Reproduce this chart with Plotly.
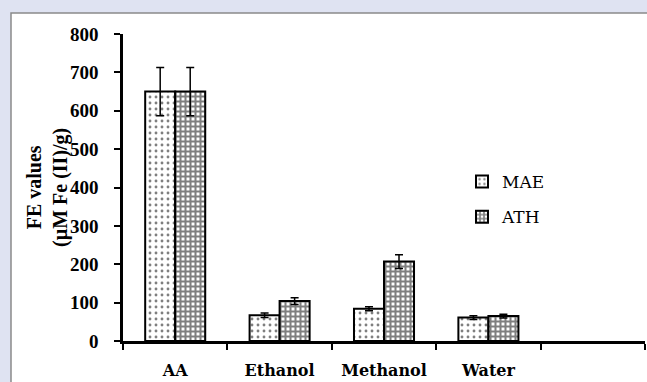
import plotly.graph_objects as go

# Ferric-reducing (FE) values by extraction solvent
categories = ["AA", "Ethanol", "Methanol", "Water", " "]
solvents = ["AA", "Ethanol", "Methanol", "Water"]
mae_values = [650, 67, 84, 61]
mae_err = [63, 6, 5, 5]
ath_values = [650, 104, 207, 65]
ath_err = [63, 9, 18, 5]
y_ticks = [0, 100, 200, 300, 400, 500, 600, 700, 800]

W, H = 647, 382
ML, MR, MT, MB = 123, 2, 34, 41
PW, PH = W - ML - MR, H - MT - MB

serif = "Liberation Serif"
cat_font = "DejaVu Serif"

fig = go.Figure()
fig.add_trace(go.Bar(
    name="MAE", x=solvents, y=mae_values,
    error_y=dict(type="data", array=mae_err, color="black", thickness=1.5, width=4),
    marker=dict(color="white", line=dict(color="black", width=2),
                pattern=dict(shape=".", size=6, solidity=0.18, fgcolor="black", bgcolor="white")),
    legendgroup="a",
))
fig.add_trace(go.Bar(
    name="ATH", x=solvents, y=ath_values,
    error_y=dict(type="data", array=ath_err, color="black", thickness=1.5, width=4),
    marker=dict(color="white", line=dict(color="black", width=2),
                pattern=dict(shape="+", size=5, solidity=0.65, fgcolor="black", bgcolor="white")),
    legendgroup="b",
))

# white framed panel behind the chart
def px_x(p):
    return (p - ML) / PW

def px_y(p):
    return 1 - (p - MT) / PH

fig.add_shape(type="rect", xref="paper", yref="paper", layer="below",
              x0=px_x(11), x1=px_x(700), y0=px_y(430), y1=px_y(13),
              fillcolor="white", line=dict(color="#8a8a8a", width=1.5))

fig.add_annotation(
    text="<b>FE values<br>(µM Fe (II)/g)</b>", textangle=-90,
    xref="paper", yref="paper", x=px_x(47), y=px_y(188),
    xanchor="center", yanchor="middle", showarrow=False,
    font=dict(family=serif, size=20, color="black"), align="center",
)

fig.update_layout(
    width=W, height=H,
    margin=dict(l=ML, r=MR, t=MT, b=MB),
    paper_bgcolor="#dfe3f2", plot_bgcolor="rgba(0,0,0,0)",
    barmode="group", bargap=0.425, bargroupgap=0,
    showlegend=True,
    legend=dict(x=px_x(462), y=px_y(164), xanchor="left", yanchor="top",
                bgcolor="rgba(0,0,0,0)", tracegroupgap=10,
                font=dict(family=cat_font, size=17, color="black"),
                itemwidth=30),
    xaxis=dict(
        type="category", categoryorder="array", categoryarray=categories,
        range=[-0.5, 4.5], tickson="boundaries", ticks="outside", ticklen=6,
        tickwidth=2, tickcolor="black", showline=True, linecolor="black",
        linewidth=2.5, showgrid=False, zeroline=False,
        tickvals=categories, ticktext=[f"<b>{c}</b>" for c in categories],
        tickfont=dict(family=cat_font, size=16, color="black"),
        ticklabelstandoff=13,
    ),
    yaxis=dict(
        range=[0, 800], tickvals=y_ticks, ticktext=[f"<b>{v}</b>" for v in y_ticks],
        ticks="outside", ticklen=6,
        tickwidth=2, tickcolor="black", showline=True, linecolor="black",
        linewidth=2.5, showgrid=False, zeroline=False,
        tickfont=dict(family=serif, size=19, color="black"),
        ticklabelstandoff=12,
    ),
)

fig.write_html("out.html")
